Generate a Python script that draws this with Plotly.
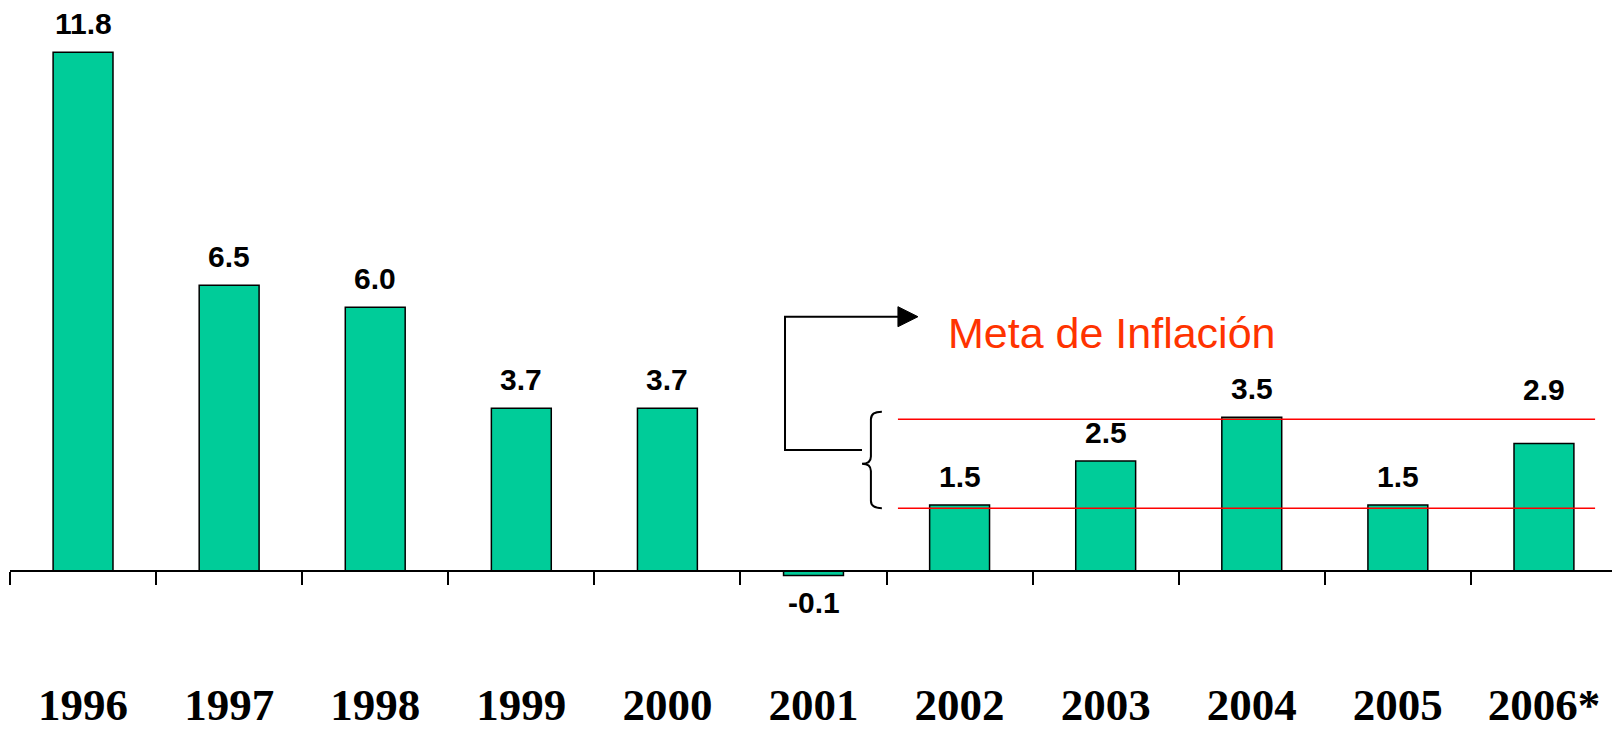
import plotly.graph_objects as go

years = ["1996", "1997", "1998", "1999", "2000", "2001", "2002", "2003", "2004", "2005", "2006*"]
inflation = [11.8, 6.5, 6.0, 3.7, 3.7, -0.1, 1.5, 2.5, 3.5, 1.5, 2.9]
value_labels = ["11.8", "6.5", "6.0", "3.7", "3.7", "-0.1", "1.5", "2.5", "3.5", "1.5", "2.9"]
target_low = 1.43
target_high = 3.45
target_text = "Meta de Inflación"

BAR_COLOR = "#00CC99"
SANS = "Liberation Sans, Arial, sans-serif"
SERIF = "Liberation Serif, Times New Roman, serif"

# the page body has an 8px margin; the figure is sized to fill the rest of the window
FIG_W, FIG_H = 1612, 728
PLOT_H = 589
Y_MAX = 12.807
Y_MIN = Y_MAX - PLOT_H / 43.96

fig = go.Figure()
fig.add_trace(go.Bar(
    x=years, y=inflation, width=0.41,
    marker=dict(color=BAR_COLOR, line=dict(color="black", width=1.5)),
    hoverinfo="skip", showlegend=False,
))

# value labels
for i, (yr, v, t) in enumerate(zip(years, inflation, value_labels)):
    shift = 29 if v >= 0 else -27
    if yr == "2006*":
        shift = 54
    fig.add_annotation(x=i, y=v, xref="x", yref="y", text=f"<b>{t}</b>",
                       showarrow=False, yanchor="middle", yshift=shift,
                       font=dict(family=SANS, size=30, color="black"))

# target range lines
x_line0, x_line1 = 5.578, 10.35
for yv in (target_low, target_high):
    fig.add_shape(type="line", xref="x", yref="y", x0=x_line0, x1=x_line1, y0=yv, y1=yv,
                  line=dict(color="#FF0000", width=1.5))

# curly brace spanning target range
bx_end, bx_mid, bx_tip = 5.468, 5.393, 5.332
ry = 0.167
ymid = (target_low + target_high) / 2
brace = (f"M {bx_end},{target_high + 0.17} Q {bx_mid},{target_high + 0.17} {bx_mid},{target_high} "
         f"L {bx_mid},{ymid + ry} Q {bx_mid},{ymid} {bx_tip},{ymid} "
         f"Q {bx_mid},{ymid} {bx_mid},{ymid - ry} "
         f"L {bx_mid},{target_low + ry} Q {bx_mid},{target_low} {bx_end},{target_low}")
fig.add_shape(type="path", xref="x", yref="y", path=brace, line=dict(color="black", width=2))

# connector with arrow
cx, cy_bot, cy_top = 4.805, 2.753, 5.785
fig.add_shape(type="path", xref="x", yref="y",
              path=f"M {bx_tip},{cy_bot} L {cx},{cy_bot} L {cx},{cy_top} L 5.6,{cy_top}",
              line=dict(color="black", width=2))
ah = 0.2275
fig.add_shape(type="path", xref="x", yref="y",
              path=f"M 5.578,{cy_top + ah} L 5.715,{cy_top} L 5.578,{cy_top - ah} Z",
              fillcolor="black", line=dict(color="black", width=1))

fig.add_annotation(x=7.043, y=5.414, xref="x", yref="y", text=target_text, showarrow=False,
                   xanchor="center", yanchor="middle",
                   font=dict(family=SANS, size=43, color="#FF3300"))

fig.update_layout(
    width=FIG_W, height=FIG_H,
    margin=dict(l=2, r=3, t=0, b=FIG_H - PLOT_H),
    paper_bgcolor="white", plot_bgcolor="white",
    showlegend=False, hovermode=False,
    xaxis=dict(
        type="category", range=[-0.5, 10.5],
        anchor="free", position=-Y_MIN / (Y_MAX - Y_MIN),
        showline=True, linecolor="black", linewidth=1.5,
        ticks="outside", tickson="boundaries", ticklen=13, tickwidth=1.5, tickcolor="black",
        ticklabelstandoff=94,
        tickfont=dict(family=SERIF, size=45, color="black", weight="bold"),
        showgrid=False, zeroline=False, fixedrange=True,
    ),
    yaxis=dict(
        range=[Y_MIN, Y_MAX], visible=False, showgrid=False, zeroline=False, fixedrange=True,
    ),
)

fig.write_html("out.html", config={"displayModeBar": False})
